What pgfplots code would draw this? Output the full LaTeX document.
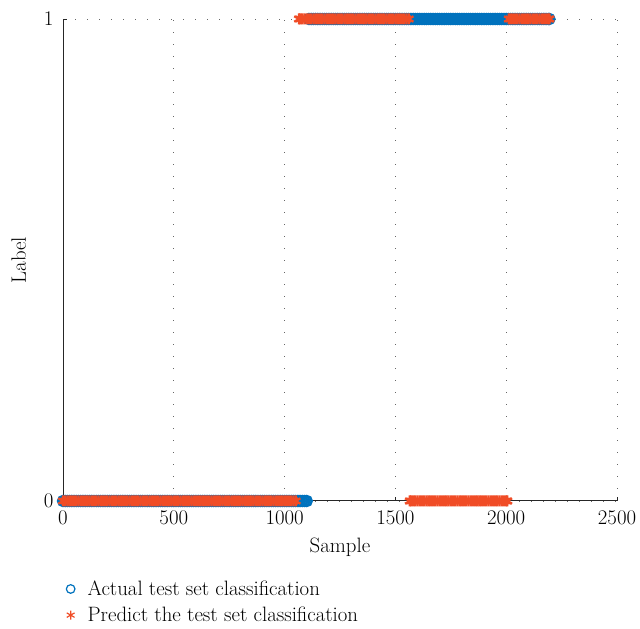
\documentclass[border=0pt]{standalone}
\usepackage{fontspec}
\usepackage{pgfplots}
\pgfplotsset{compat=1.18}
\definecolor{mblue}{RGB}{0,114,189}
\definecolor{mred}{RGB}{240,76,38}
\begin{document}
\begin{tikzpicture}[x=1pt,y=1pt]
\path[use as bounding box] (0,0) rectangle (640,629);
\begin{axis}[
  at={(63pt,128pt)}, anchor=south west,
  scale only axis, width=554pt, height=482pt,
  xmin=0, xmax=2500, ymin=0, ymax=1,
  axis x line*=bottom, axis y line*=left,
  axis line style={-, color=black!85, line width=1pt},
  xtick={0,500,1000,1500,2000,2500}, ytick={0,1},
  tick align=inside, major tick length=4pt,
  tick style={color=black!85, line width=0.8pt},
  /pgf/number format/assume math mode=true,
  /pgf/number format/1000 sep={},
  tick label style={font=\fontsize{20.8}{25}\selectfont},
  xticklabel style={yshift=-6pt},
  yticklabel style={xshift=-6pt},
  label style={font=\fontsize{20.8}{25}\selectfont},
  xlabel={Sample}, ylabel={Label},
  xlabel style={yshift=-6pt},
  ylabel style={yshift=11pt},
  xmajorgrids, ymajorgrids,
  grid style={color=black!60, line width=0.8pt, dash pattern=on 0.8pt off 11.2pt},
  clip=false,
  legend style={at={(axis description cs:-0.01,-0.157)}, anchor=north west, draw=none, fill=none,
    font=\fontsize{20.8}{25}\selectfont, row sep=6pt, cells={anchor=west}},
  legend image code/.code={\path[draw=none,fill=none] (-10pt,0pt) -- (15pt,0pt); \draw[#1] plot coordinates {(0pt,0pt)};},
]
\addplot[only marks, mark=o, mark size=5pt, mark options={draw=mblue, line width=2.4pt}, forget plot] coordinates {
(0,0)(10,0)(20,0)(30,0)(40,0)(50,0)(60,0)(70,0)(80,0)(90,0)
(100,0)(110,0)(120,0)(130,0)(140,0)(150,0)(160,0)(170,0)(180,0)(190,0)
(200,0)(210,0)(220,0)(230,0)(240,0)(250,0)(260,0)(270,0)(280,0)(290,0)
(300,0)(310,0)(320,0)(330,0)(340,0)(350,0)(360,0)(370,0)(380,0)(390,0)
(400,0)(410,0)(420,0)(430,0)(440,0)(450,0)(460,0)(470,0)(480,0)(490,0)
(500,0)(510,0)(520,0)(530,0)(540,0)(550,0)(560,0)(570,0)(580,0)(590,0)
(600,0)(610,0)(620,0)(630,0)(640,0)(650,0)(660,0)(670,0)(680,0)(690,0)
(700,0)(710,0)(720,0)(730,0)(740,0)(750,0)(760,0)(770,0)(780,0)(790,0)
(800,0)(810,0)(820,0)(830,0)(840,0)(850,0)(860,0)(870,0)(880,0)(890,0)
(900,0)(910,0)(920,0)(930,0)(940,0)(950,0)(960,0)(970,0)(980,0)(990,0)
(1000,0)(1010,0)(1020,0)(1030,0)(1040,0)(1050,0)(1060,0)(1070,0)(1080,0)(1090,0)(1100,0)
(1110,1)(1120,1)(1130,1)(1140,1)(1150,1)(1160,1)(1170,1)(1180,1)(1190,1)
(1200,1)(1210,1)(1220,1)(1230,1)(1240,1)(1250,1)(1260,1)(1270,1)(1280,1)(1290,1)
(1300,1)(1310,1)(1320,1)(1330,1)(1340,1)(1350,1)(1360,1)(1370,1)(1380,1)(1390,1)
(1400,1)(1410,1)(1420,1)(1430,1)(1440,1)(1450,1)(1460,1)(1470,1)(1480,1)(1490,1)
(1500,1)(1510,1)(1520,1)(1530,1)(1540,1)(1550,1)(1560,1)(1570,1)(1580,1)(1590,1)
(1600,1)(1610,1)(1620,1)(1630,1)(1640,1)(1650,1)(1660,1)(1670,1)(1680,1)(1690,1)
(1700,1)(1710,1)(1720,1)(1730,1)(1740,1)(1750,1)(1760,1)(1770,1)(1780,1)(1790,1)
(1800,1)(1810,1)(1820,1)(1830,1)(1840,1)(1850,1)(1860,1)(1870,1)(1880,1)(1890,1)
(1900,1)(1910,1)(1920,1)(1930,1)(1940,1)(1950,1)(1960,1)(1970,1)(1980,1)(1990,1)
(2000,1)(2010,1)(2020,1)(2030,1)(2040,1)(2050,1)(2060,1)(2070,1)(2080,1)(2090,1)
(2100,1)(2110,1)(2120,1)(2130,1)(2140,1)(2150,1)(2160,1)(2170,1)(2180,1)(2190,1)(2195,1)
};
\addplot[only marks, mark=asterisk, mark size=5.5pt, mark options={draw=mred, line width=2.3pt}, forget plot] coordinates {
(0,0)(10,0)(20,0)(30,0)(40,0)(50,0)(60,0)(70,0)(80,0)(90,0)
(100,0)(110,0)(120,0)(130,0)(140,0)(150,0)(160,0)(170,0)(180,0)(190,0)
(200,0)(210,0)(220,0)(230,0)(240,0)(250,0)(260,0)(270,0)(280,0)(290,0)
(300,0)(310,0)(320,0)(330,0)(340,0)(350,0)(360,0)(370,0)(380,0)(390,0)
(400,0)(410,0)(420,0)(430,0)(440,0)(450,0)(460,0)(470,0)(480,0)(490,0)
(500,0)(510,0)(520,0)(530,0)(540,0)(550,0)(560,0)(570,0)(580,0)(590,0)
(600,0)(610,0)(620,0)(630,0)(640,0)(650,0)(660,0)(670,0)(680,0)(690,0)
(700,0)(710,0)(720,0)(730,0)(740,0)(750,0)(760,0)(770,0)(780,0)(790,0)
(800,0)(810,0)(820,0)(830,0)(840,0)(850,0)(860,0)(870,0)(880,0)(890,0)
(900,0)(910,0)(920,0)(930,0)(940,0)(950,0)(960,0)(970,0)(980,0)(990,0)
(1000,0)(1010,0)(1020,0)(1030,0)(1040,0)(1050,0)
(1065,1)(1070,1)(1080,1)(1090,1)
(1100,1)(1110,1)(1120,1)(1130,1)(1140,1)(1150,1)(1160,1)(1170,1)(1180,1)(1190,1)
(1200,1)(1210,1)(1220,1)(1230,1)(1240,1)(1250,1)(1260,1)(1270,1)(1280,1)(1290,1)
(1300,1)(1310,1)(1320,1)(1330,1)(1340,1)(1350,1)(1360,1)(1370,1)(1380,1)(1390,1)
(1400,1)(1410,1)(1420,1)(1430,1)(1440,1)(1450,1)(1460,1)(1470,1)(1480,1)(1490,1)
(1500,1)(1510,1)(1520,1)(1530,1)(1540,1)(1550,1)(1560,1)
(1565,0)(1570,0)(1580,0)(1590,0)
(1600,0)(1610,0)(1620,0)(1630,0)(1640,0)(1650,0)(1660,0)(1670,0)(1680,0)(1690,0)
(1700,0)(1710,0)(1720,0)(1730,0)(1740,0)(1750,0)(1760,0)(1770,0)(1780,0)(1790,0)
(1800,0)(1810,0)(1820,0)(1830,0)(1840,0)(1850,0)(1860,0)(1870,0)(1880,0)(1890,0)
(1900,0)(1910,0)(1920,0)(1930,0)(1940,0)(1950,0)(1960,0)(1970,0)(1980,0)(1990,0)
(2000,0)(2005,0)
(2012,1)(2020,1)(2030,1)(2040,1)(2050,1)(2060,1)(2070,1)(2080,1)(2090,1)
(2100,1)(2110,1)(2120,1)(2130,1)(2140,1)(2150,1)(2160,1)(2170,1)(2180,1)(2190,1)(2195,1)
};
\addlegendimage{only marks, mark=o, mark size=4.3pt, mark options={draw=mblue, line width=1.2pt}}
\addlegendentry{Actual test set classification}
\addlegendimage{only marks, mark=asterisk, mark size=4.5pt, mark options={draw=mred, line width=1.2pt}}
\addlegendentry{Predict the test set classification}
\end{axis}
\end{tikzpicture}
\end{document}
